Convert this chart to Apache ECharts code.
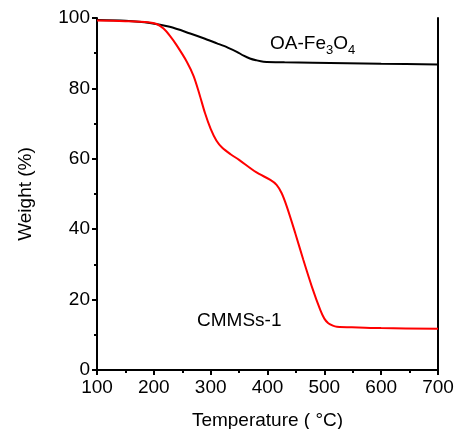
<!DOCTYPE html>
<html>
<head>
<meta charset="utf-8">
<script src="https://cdn.jsdelivr.net/npm/echarts@6/dist/echarts.min.js"></script>
<style>
  html, body { margin: 0; padding: 0; background: #fff; }
  #chart { width: 455px; height: 429px; }
</style>
</head>
<body>
<div id="chart"></div>
<script>
// TGA curves: temperature (°C) vs remaining weight (%)
const oaFe3o4Temp   = [100, 150, 193, 228, 264, 290, 311, 330, 346, 358, 369, 380, 393, 430, 480, 600, 700];
const oaFe3o4Weight = [99.4, 99.2, 98.6, 97.5, 95.6, 94.1, 92.8, 91.6, 90.4, 89.3, 88.5, 88.0, 87.6, 87.4, 87.3, 87.0, 86.8];

const cmmsTemp   = [100, 150, 190, 205, 217, 228, 240, 258, 270, 280, 290, 300, 310, 320, 335, 350, 380, 405, 416, 425, 434, 449, 463, 478, 493, 500, 507, 515, 522, 560, 600, 700];
const cmmsWeight = [99.3, 99.1, 98.8, 98.3, 97.0, 95.0, 92.3, 87.6, 83.5, 78.5, 73.0, 68.5, 65.2, 63.2, 61.3, 59.7, 56.2, 54.0, 52.6, 50.2, 46.4, 38.8, 31.3, 23.7, 17.0, 14.6, 13.3, 12.6, 12.3, 12.1, 11.9, 11.7];

const xTicks = { min: 100, max: 700, interval: 100 };
const yTicks = { min: 0, max: 100, interval: 20 };

const seriesLabels = { oa: 'OA-Fe', cmms: 'CMMSs-1' };

const pair = (xs, ys) => xs.map((x, i) => [x, ys[i]]);

const font = 'Liberation Sans, Arial, sans-serif';
const chart = echarts.init(document.getElementById('chart'), null, { renderer: 'canvas' });

const frameAxis = {
  axisLine: { show: true, lineStyle: { color: '#000', width: 2 } },
  axisTick: { show: false },
  axisLabel: { show: false },
  splitLine: { show: false }
};

chart.setOption({
  animation: false,
  backgroundColor: '#fff',
  grid: { left: 97, right: 17, top: 18, bottom: 59, containLabel: false, outerBoundsMode: 'none' },
  xAxis: [{
    type: 'value',
    min: xTicks.min, max: xTicks.max, interval: xTicks.interval,
    name: 'Temperature ( °C)',
    nameLocation: 'middle',
    nameGap: 41,
    nameTextStyle: { fontFamily: font, fontSize: 19, color: '#000' },
    axisLine: { show: true, onZero: false, lineStyle: { color: '#000', width: 2 } },
    axisTick: { show: true, inside: false, length: 5, lineStyle: { color: '#000', width: 2 } },
    minorTick: { show: true, splitNumber: 2, length: 3, lineStyle: { color: '#000', width: 2 } },
    axisLabel: { fontFamily: font, fontSize: 19, color: '#000', margin: 8 },
    splitLine: { show: false }
  }, Object.assign({ type: 'value', position: 'top', min: xTicks.min, max: xTicks.max }, frameAxis)],
  yAxis: [{
    type: 'value',
    min: yTicks.min, max: yTicks.max, interval: yTicks.interval,
    name: 'Weight (%)',
    nameLocation: 'middle',
    nameGap: 62,
    nameRotate: 90,
    nameTextStyle: { fontFamily: font, fontSize: 19, color: '#000' },
    axisLine: { show: true, onZero: false, lineStyle: { color: '#000', width: 2 } },
    axisTick: { show: true, inside: false, length: 5, lineStyle: { color: '#000', width: 2 } },
    minorTick: { show: true, splitNumber: 2, length: 3, lineStyle: { color: '#000', width: 2 } },
    axisLabel: { fontFamily: font, fontSize: 19, color: '#000', margin: 7 },
    splitLine: { show: false }
  }, Object.assign({ type: 'value', position: 'right', min: yTicks.min, max: yTicks.max }, frameAxis)],
  series: [{
    name: 'OA-Fe3O4',
    type: 'line',
    data: pair(oaFe3o4Temp, oaFe3o4Weight),
    smooth: 0.3,
    showSymbol: false,
    lineStyle: { color: '#000', width: 2 },
    z: 3
  }, {
    name: 'CMMSs-1',
    type: 'line',
    data: pair(cmmsTemp, cmmsWeight),
    smooth: 0.3,
    showSymbol: false,
    lineStyle: { color: '#ff0000', width: 2 },
    z: 4
  }],
  graphic: [{
    type: 'text',
    left: 270,
    top: 34,
    style: {
      text: '{n|' + seriesLabels.oa + '}{s|3}{n|O}{s|4}',
      rich: {
        n: { fontFamily: font, fontSize: 19, fill: '#000', verticalAlign: 'bottom', lineHeight: 22 },
        s: { fontFamily: font, fontSize: 13, fill: '#000', verticalAlign: 'bottom', lineHeight: 16, padding: [0, 0, -4, 0] }
      }
    }
  }, {
    type: 'text',
    left: 197,
    top: 311,
    style: { text: seriesLabels.cmms, fontFamily: font, fontSize: 19, fill: '#000' }
  }]
});
</script>
</body>
</html>
